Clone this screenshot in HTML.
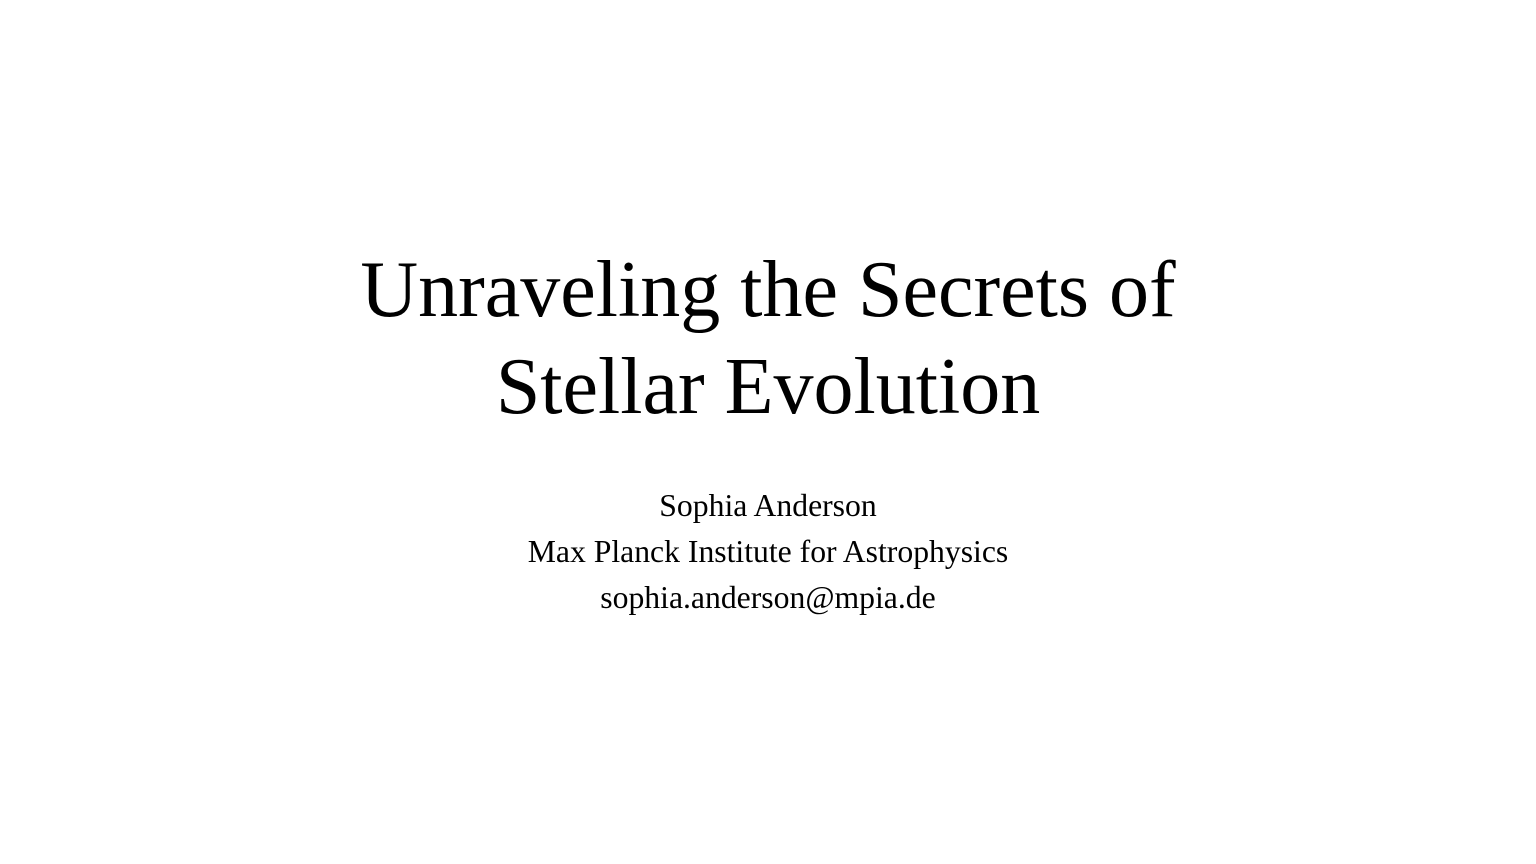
<!DOCTYPE html>
<html>
<head>
<meta charset="utf-8">
<style>
  html, body { margin: 0; padding: 0; background: #ffffff; }
  body { width: 1536px; height: 864px; position: relative; overflow: hidden;
         font-family: "Liberation Serif", "Times New Roman", serif; color: #000; }
  .title { position: absolute; left: 0; width: 1536px; top: 242px; text-align: center;
           font-size: 80px; line-height: 97px; }
  .sub { position: absolute; left: 0; width: 1536px; top: 483px; text-align: center;
         font-size: 31.7px; line-height: 46px; }
</style>
</head>
<body>
  <div class="title">Unraveling the Secrets of<br>Stellar Evolution</div>
  <div class="sub">
    <div>Sophia Anderson</div>
    <div>Max Planck Institute for Astrophysics</div>
    <div>sophia.anderson@mpia.de</div>
  </div>
</body>
</html>
